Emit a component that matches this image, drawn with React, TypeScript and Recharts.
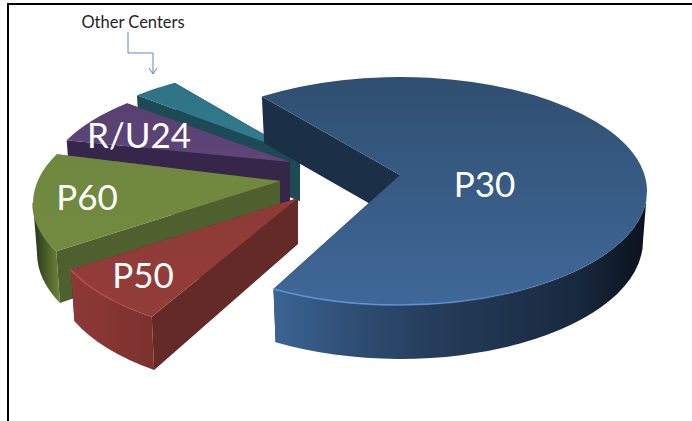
import { PieChart, Pie } from "recharts";

// share of cases per center, painted back to front
const centers = ["Other Centers", "R/U24", "P60", "P50", "P30"];
const shares = [3, 6.5, 14, 8.5, 68];

const chartData = centers.map((name, i) => ({ name, value: shares[i] }));

const FONT = "Lato, 'Open Sans', sans-serif";
const SQUASH = 0.4615; // tilt of the pie
const DEPTH = 50;

type Look = {
  dx: number; // explode offset from the pie centre
  dy: number;
  lift: number; // how far the tip sits behind the ellipse centre
  twist: number;
  top: [string, string];
  side: string;
  rim: string[];
  glow: string;
  labelX: number;
  labelY: number;
  fontSize: number;
};

const looks: Record<string, Look> = {
  P30: { dx: 37, dy: -9, lift: 16, twist: 3.5, top: ["#2f4f70", "#3f6899"], side: "#1b2f47", rim: ["#3b6494", "#2f4f75", "#263f5e", "#1f344e", "#192a40", "#0a121c"], glow: "#5f95de", labelX: 484.5, labelY: 182.5, fontSize: 35 },
  P50: { dx: -65, dy: 25, lift: 27, twist: -2, top: ["#8d3a37", "#933d3a"], side: "#642a27", rim: ["#8d3936", "#7c312e"], glow: "#c4504b", labelX: 143, labelY: 274, fontSize: 35 },
  P60: { dx: -83, dy: 3, lift: 22, twist: 0, top: ["#6f873e", "#728b40"], side: "#4e602d", rim: ["#26331a", "#4a5e28", "#6c8539"], glow: "#6f873e", labelX: 87, labelY: 196, fontSize: 35 },
  "R/U24": { dx: -73, dy: -11, lift: 27, twist: 0, top: ["#574070", "#5f4578"], side: "#35264a", rim: ["#35264a", "#35264a"], glow: "#5f4578", labelX: 139, labelY: 134, fontSize: 35 },
  "Other Centers": { dx: -63, dy: -19, lift: 26, twist: 0, top: ["#2e7385", "#327b8e"], side: "#1c4a55", rim: ["#1c4a55", "#1c4a55"], glow: "#327b8e", labelX: 133, labelY: 22, fontSize: 16.5 },
};

const onEllipse = (x: number, y: number, rx: number, ry: number, deg: number) => {
  const t = (deg * Math.PI) / 180;
  return [x + rx * Math.cos(t), y - ry * Math.sin(t)];
};

const Slice3D = (props: any) => {
  const { cx, cy, outerRadius, startAngle, endAngle, name } = props;
  const look = looks[name];
  const from = Math.min(startAngle, endAngle) + look.twist;
  const to = Math.max(startAngle, endAngle) + look.twist;
  const id = name.replace(/\W/g, "");

  const x = cx + look.dx;
  const y = cy + look.dy;
  const rx = outerRadius;
  const ry = outerRadius * SQUASH;
  // floor ellipse is a little narrower and rounder, the view has some perspective
  const bx = rx - 4;
  const by = ry + 4;
  const tip = [x, y - look.lift];
  const tipLow = [x, y - look.lift + DEPTH - 4];

  const top = (deg: number) => onEllipse(x, y, rx, ry, deg);
  const low = (deg: number) => onEllipse(x, y + DEPTH, bx, by, deg);
  const wall = (deg: number) => {
    const a = top(deg);
    const b = low(deg);
    return `M${tip} L${a} L${b} L${tipLow} Z`;
  };

  const a0 = top(from);
  const a1 = top(to);
  const large = to - from > 180 ? 1 : 0;
  const topPath = `M${tip} L${a0} A${rx} ${ry} 0 ${large} 0 ${a1} Z`;

  const rimFrom = Math.max(from, 180);
  const rimTo = Math.min(to, 360);
  const hasRim = rimTo > rimFrom;
  const r0 = top(rimFrom);
  const r1 = top(rimTo);
  const l0 = low(rimFrom);
  const l1 = low(rimTo);
  const rimLeft = Math.min(r0[0], r1[0], l0[0], l1[0]);
  const rimRight = Math.max(r0[0], r1[0], l0[0], l1[0]);

  return (
    <g>
      <defs>
        <linearGradient id={`top-${id}`} x1="0" y1="0" x2="0" y2="1">
          <stop offset="0" stopColor={look.top[0]} />
          <stop offset="1" stopColor={look.top[1]} />
        </linearGradient>
        <linearGradient id={`rim-${id}`} gradientUnits="userSpaceOnUse" x1={rimLeft} y1="0" x2={rimRight} y2="0">
          {look.rim.map((c, i) => (
            <stop key={i} offset={i / (look.rim.length - 1)} stopColor={c} />
          ))}
        </linearGradient>
        <linearGradient id={`glow-${id}`} gradientUnits="userSpaceOnUse" x1={rimLeft} y1="0" x2={rimRight} y2="0">
          <stop offset="0" stopColor={look.glow} />
          <stop offset="0.45" stopColor={look.glow} stopOpacity={0.8} />
          <stop offset="0.8" stopColor={look.glow} stopOpacity={0} />
        </linearGradient>
      </defs>
      <path d={wall(from)} fill={look.side} />
      <path d={wall(to)} fill={look.side} />
      {hasRim && (
        <path
          d={`M${r0} A${rx} ${ry} 0 0 0 ${r1} L${l1} A${bx} ${by} 0 0 1 ${l0} Z`}
          fill={`url(#rim-${id})`}
        />
      )}
      <path d={topPath} fill={`url(#top-${id})`} />
      {hasRim && (
        <path
          d={`M${r0} A${rx} ${ry} 0 0 0 ${r1}`}
          fill="none"
          stroke={`url(#glow-${id})`}
          strokeWidth={1.5}
        />
      )}
    </g>
  );
};

const SliceLabel = (props: any) => {
  const look = looks[props.name];
  const callout = props.name === "Other Centers";
  return (
    <g>
      <text
        x={look.labelX}
        y={look.labelY}
        textAnchor="middle"
        dominantBaseline="central"
        fontFamily={FONT}
        fontSize={look.fontSize}
        fill={callout ? "#1f1f1f" : "#ffffff"}
      >
        {props.name}
      </text>
      {callout && (
        <path
          d="M128 32 V53 H153 V74 M149 68 L153 74 L157 68"
          fill="none"
          stroke="#5b86bd"
          strokeWidth={1}
        />
      )}
    </g>
  );
};

export default function App() {
  return (
    <div style={{ position: "absolute", left: 0, top: 0, width: 692, height: 421, overflow: "hidden", background: "#fff" }}>
      <div
        style={{
          position: "absolute",
          left: 7,
          top: 3,
          right: 0,
          bottom: 0,
          borderTop: "2px solid #000",
          borderLeft: "2px solid #000",
        }}
      />
      <div style={{ position: "absolute", left: 0, top: 0 }}>
        <PieChart width={692} height={421} margin={{ top: 0, right: 0, bottom: 0, left: 0 }}>
          <Pie
            data={chartData}
            dataKey="value"
            nameKey="name"
            cx={363}
            cy={200}
            innerRadius={0}
            outerRadius={247}
            startAngle={120.5}
            endAngle={480.5}
            stroke="none"
            shape={Slice3D}
            label={SliceLabel}
            labelLine={false}
            isAnimationActive={false}
          />
        </PieChart>
      </div>
    </div>
  );
}
